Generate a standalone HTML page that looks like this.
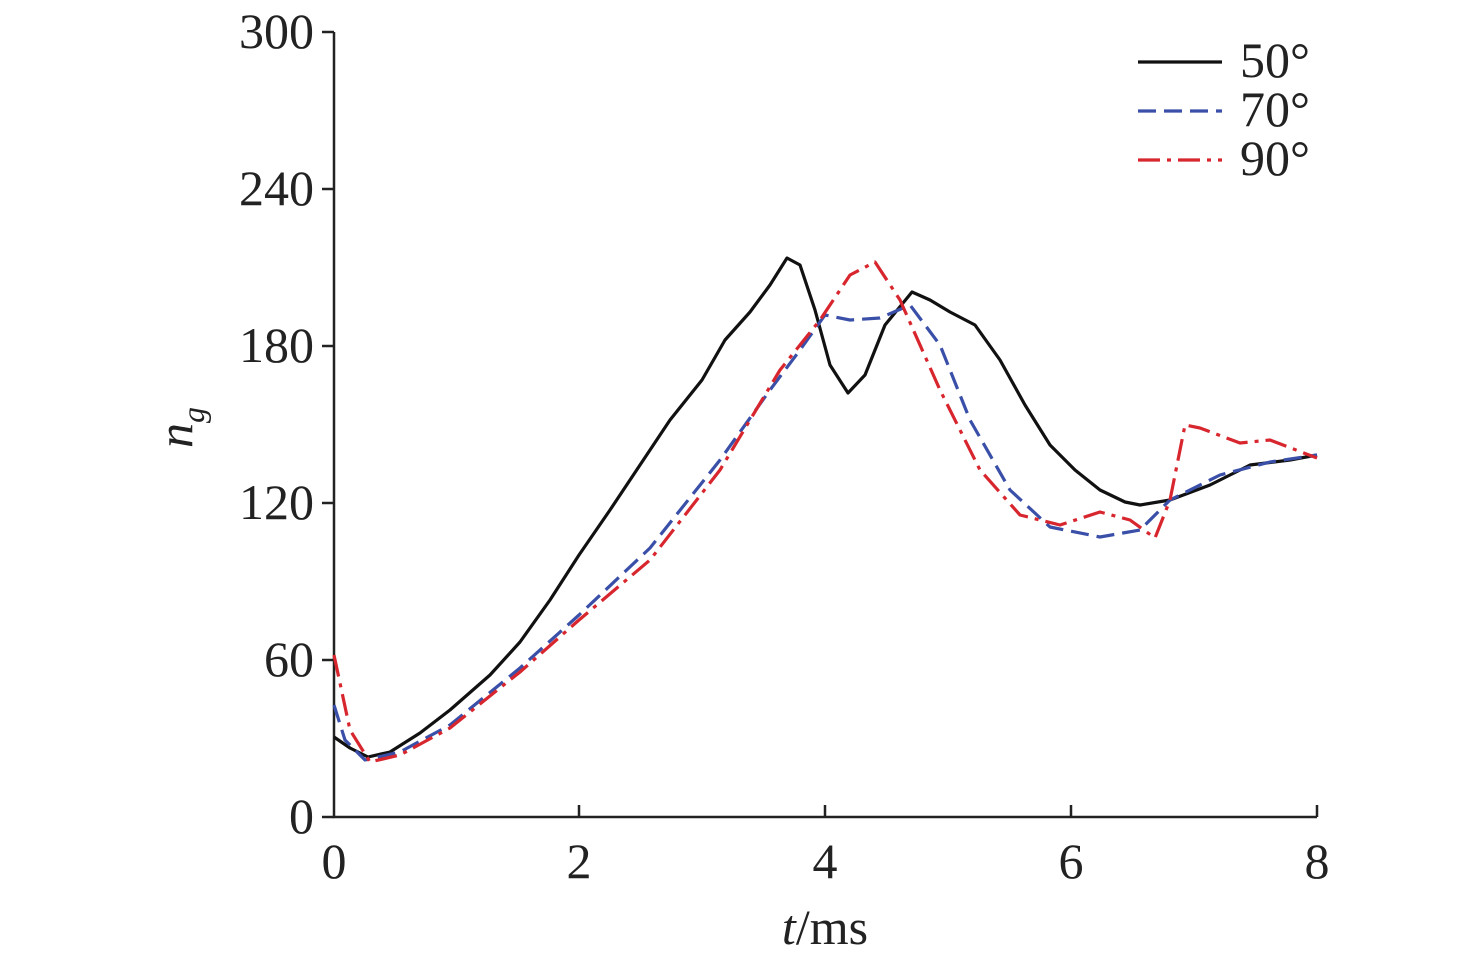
<!DOCTYPE html>
<html><head><style>
body{margin:0;background:#fff;}
svg{display:block;}
text{font-family:"Liberation Serif","Times New Roman",serif;fill:#222;}
</style></head><body>
<svg width="1476" height="962" viewBox="0 0 1476 962">
<g stroke="#222" stroke-width="2.5" fill="none">
<path d="M334 32 V817 H1317"/>
<path d="M322 32H334M322 189H334M322 346H334M322 503H334M322 660H334M322 817H334"/>
<path d="M579 817V805M825 817V805M1071 817V805M1317 817V805"/>
</g>
<g font-size="50" text-anchor="end">
<text x="314" y="48">300</text><text x="314" y="205">240</text><text x="314" y="362">180</text>
<text x="314" y="519">120</text><text x="314" y="676">60</text><text x="314" y="833">0</text>
</g>
<g font-size="50" text-anchor="middle">
<text x="334" y="878">0</text><text x="579" y="878">2</text><text x="825" y="878">4</text>
<text x="1071" y="878">6</text><text x="1317" y="878">8</text>
<text x="825" y="944"><tspan font-style="italic">t</tspan>/ms</text>
</g>
<text transform="translate(192,448) rotate(-90)" font-size="50"><tspan font-style="italic">n</tspan><tspan font-style="italic" font-size="32" dy="12">g</tspan></text>
<g fill="none" stroke-width="3.2" stroke-linejoin="round">
<path stroke="#111" d="M334 737 L350 748 L368 757 L390 752 L420 733 L450 710 L490 675 L520 642 L550 600 L579 555 L610 510 L640 465 L670 420 L702 380 L725 340 L750 312 L770 285 L787 258 L800 265 L815 310 L830 365 L848 393 L865 375 L885 325 L912 292 L930 300 L950 312 L975 325 L1000 360 L1025 405 L1050 445 L1075 470 L1100 490 L1125 502 L1140 505 L1170 500 L1210 485 L1250 465 L1290 460 L1317 455"/>
<path stroke="#3a4fa8" stroke-dasharray="18 8" d="M334 705 L345 740 L365 760 L400 752 L450 725 L520 668 L579 615 L650 548 L720 460 L770 390 L800 350 L825 315 L850 320 L880 318 L910 305 L940 345 L970 420 L1010 490 L1050 527 L1100 537 L1140 530 L1170 500 L1220 475 L1270 462 L1317 455"/>
<path stroke="#d8262e" stroke-dasharray="22 7 4 7" d="M334 655 L350 730 L370 762 L400 755 L450 728 L520 672 L579 620 L650 560 L720 470 L780 370 L820 320 L850 275 L875 262 L900 300 L940 390 L980 470 L1020 515 L1060 525 L1100 512 L1130 520 L1155 538 L1170 500 L1185 425 L1200 428 L1240 443 L1270 440 L1317 458"/>
</g>
<g stroke-width="3.2" fill="none">
<path stroke="#111" d="M1138 62H1222"/>
<path stroke="#3a4fa8" stroke-dasharray="18 8" d="M1138 111H1222"/>
<path stroke="#d8262e" stroke-dasharray="22 7 4 7" d="M1138 160H1222"/>
</g>
<g font-size="50">
<text x="1240" y="77">50°</text><text x="1240" y="126">70°</text><text x="1240" y="175">90°</text>
</g>
</svg>
</body></html>
